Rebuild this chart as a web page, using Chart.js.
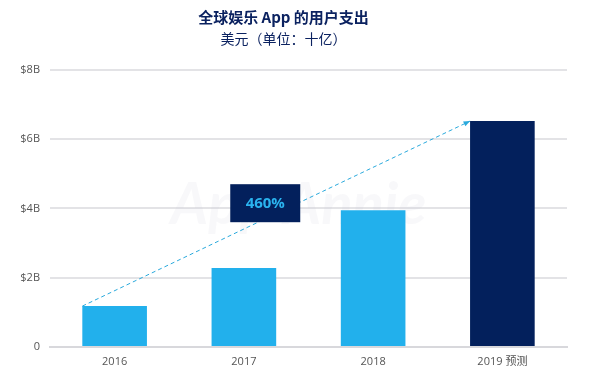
<!DOCTYPE html>
<html lang="zh">
<head>
    <meta charset="UTF-8">
    <title>全球娱乐 App 的用户支出</title>
    <script src="https://cdn.jsdelivr.net/npm/chart.js"></script>
    <style>
        body { margin: 0; background: #fff; }
    </style>
</head>
<body>
    <canvas id="spendChart" width="589" height="379"></canvas>

    <script>
        // data
        const years = ['2016', '2017', '2018', '2019 预测'];
        const spend = [1.18, 2.28, 3.95, 6.52];   // billions USD
        const barColors = ['#22b0ec', '#22b0ec', '#22b0ec', '#03205c'];
        const growthLabel = '460%';

        const FONT = "'Noto Sans CJK SC', 'Open Sans', sans-serif";
        const TICK_FONT = "'Open Sans', 'Noto Sans CJK SC', sans-serif";

        // dashed growth arrow + label box + faint watermark
        const growthPlugin = {
            id: 'growth',
            beforeDatasetsDraw(chart) {
                const ctx = chart.ctx;
                const area = chart.chartArea;
                ctx.save();
                ctx.fillStyle = 'rgba(200,200,210,0.12)';
                ctx.font = "italic bold 58px 'Lato', sans-serif";
                ctx.textAlign = 'center';
                ctx.textBaseline = 'middle';
                ctx.fillText('App Annie', (area.left + area.right) / 2 - 10, 205);
                ctx.restore();
            },
            afterDatasetsDraw(chart) {
                const ctx = chart.ctx;
                const bars = chart.getDatasetMeta(0).data;
                const first = bars[0], last = bars[bars.length - 1];
                const x0 = first.x - first.width / 2, y0 = first.y;
                const x1 = last.x - last.width / 2, y1 = last.y;

                ctx.save();
                ctx.strokeStyle = '#29a9dc';
                ctx.lineWidth = 1;
                ctx.setLineDash([4, 3]);
                ctx.beginPath();
                ctx.moveTo(x0, y0);
                ctx.lineTo(x1, y1);
                ctx.stroke();
                ctx.setLineDash([]);

                // arrow head
                const ang = Math.atan2(y1 - y0, x1 - x0);
                ctx.fillStyle = '#29a9dc';
                ctx.beginPath();
                ctx.moveTo(x1, y1);
                ctx.lineTo(x1 - 7 * Math.cos(ang - 0.4), y1 - 7 * Math.sin(ang - 0.4));
                ctx.lineTo(x1 - 7 * Math.cos(ang + 0.4), y1 - 7 * Math.sin(ang + 0.4));
                ctx.closePath();
                ctx.fill();

                // label box, placed between 2016 and 2017 columns
                const xs = chart.scales.x, ys = chart.scales.y;
                const cx = (xs.getPixelForValue(0) + xs.getPixelForValue(1)) / 2 + 86;
                const cy = ys.getPixelForValue(4.15);
                ctx.fillStyle = '#03205c';
                ctx.fillRect(cx - 35, cy - 19, 70, 38);
                ctx.fillStyle = '#2ab3ef';
                ctx.font = "bold 15px 'Open Sans', sans-serif";
                ctx.textAlign = 'center';
                ctx.textBaseline = 'middle';
                ctx.fillText(growthLabel, cx, cy + 1);
                ctx.restore();
            }
        };

        const ctx = document.getElementById('spendChart').getContext('2d');
        new Chart(ctx, {
            type: 'bar',
            data: {
                labels: years,
                datasets: [{
                    data: spend,
                    backgroundColor: barColors,
                    barPercentage: 0.5,
                    categoryPercentage: 1.0
                }]
            },
            options: {
                responsive: false,
                animation: false,
                layout: { padding: { left: 0, right: 22, top: 0, bottom: 0 } },
                plugins: {
                    legend: { display: false },
                    tooltip: { enabled: false },
                    title: {
                        display: true,
                        text: '全球娱乐 App 的用户支出',
                        color: '#0b2260',
                        font: { family: FONT, size: 15, weight: 'bold' },
                        padding: { top: 8, bottom: 4 }
                    },
                    subtitle: {
                        display: true,
                        text: '美元（单位：十亿）',
                        color: '#0b2260',
                        font: { family: FONT, size: 14 },
                        padding: { bottom: 23 }
                    }
                },
                scales: {
                    x: {
                        grid: { display: false, drawTicks: false },
                        border: { color: '#d8d8dc', width: 2 },
                        ticks: {
                            color: '#555',
                            font: { family: TICK_FONT, size: 11 },
                            padding: 8
                        },
                        afterFit(scale) { scale.height = 32; }
                    },
                    y: {
                        min: 0,
                        max: 8,
                        grid: { color: '#e3e3e6', lineWidth: 2, drawTicks: false },
                        border: { display: false },
                        ticks: {
                            stepSize: 2,
                            color: '#555',
                            font: { family: TICK_FONT, size: 11 },
                            padding: 10,
                            callback: v => v === 0 ? '0' : '$' + v + 'B'
                        },
                        afterFit(scale) { scale.width = 50; }
                    }
                }
            },
            plugins: [growthPlugin]
        });
    </script>
</body>
</html>
